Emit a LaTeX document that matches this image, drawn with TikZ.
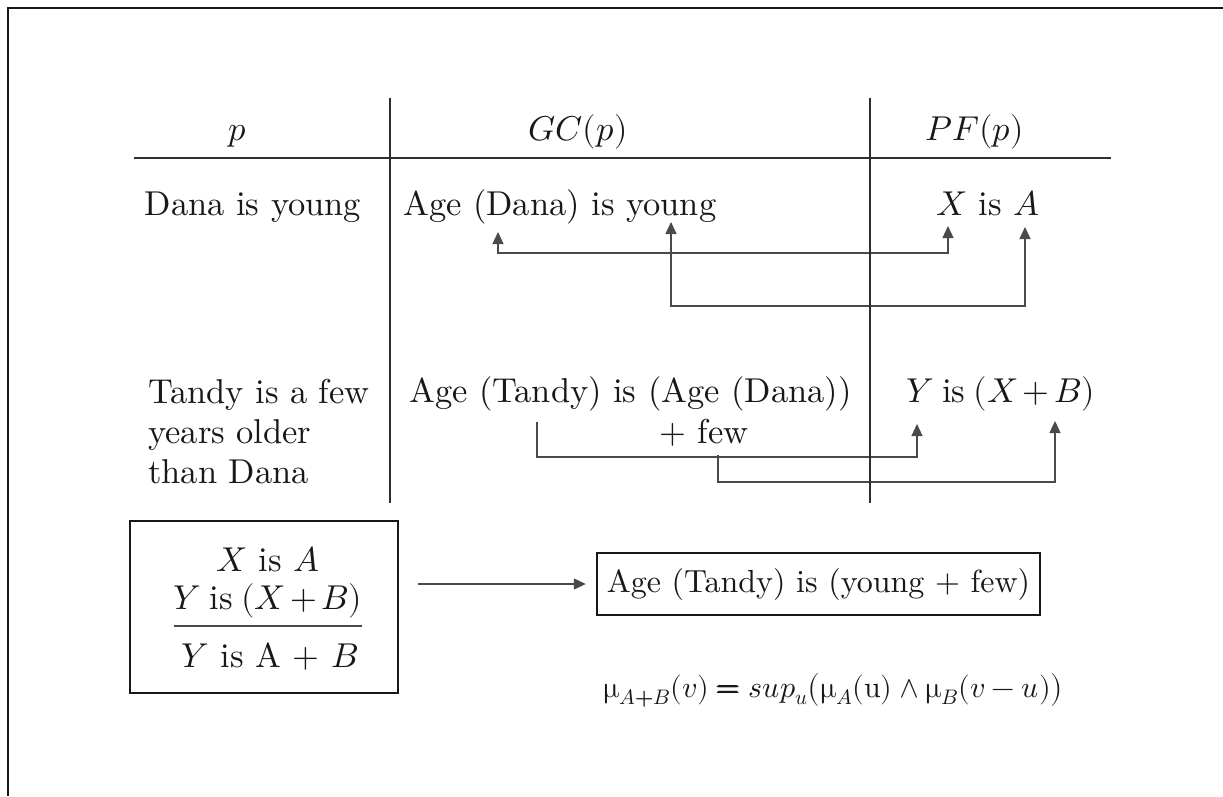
\documentclass[tikz,border=0pt]{standalone}
\usepackage{amsmath}
\usepackage{unicode-math}
\setmainfont{lmroman10-regular.otf}[ItalicFont=lmroman10-italic.otf, BoldFont=lmroman10-bold.otf, BoldItalicFont=lmroman10-bolditalic.otf]
\setmathfont{Latin Modern Math}
\usetikzlibrary{arrows.meta}
\definecolor{ink}{HTML}{1A1718}
\definecolor{wire}{HTML}{4A4A4A}
\newcommand{\YXB}{{\medmuskip=2.5mu $Y$\hspace{0.25em}is\hspace{0.25em}$(X+B)$}}
\tikzset{
  txt/.style={font=\fontsize{34.5}{40}\selectfont, text=ink, inner sep=0pt},
  frameline/.style={line width=2pt, ink},
  tableline/.style={line width=2.6pt, ink!90},
  thinline/.style={line width=1.3pt, wire},
  linkline/.style={line width=1.2pt, wire},
  tipA/.style={-{Triangle[length=12pt,width=11pt]}},
  tipB/.style={{Triangle[length=12pt,width=11pt]}-{Triangle[length=12pt,width=11pt]}},
  boxed/.style={draw=ink, line width=2.4pt, inner sep=0pt}
}
\begin{document}
\begin{tikzpicture}[x=1pt,y=-1pt]
\useasboundingbox (0,0) rectangle (1223,796);
% frame (top and left visible)
\draw[frameline] (1223,7.5) -- (7.5,7.5) -- (7.5,796);

% table grid
\draw[tableline] (134,158) -- (1111,158);

% headers
\node[txt, anchor=base] (hp) at (237,140) {$p$};
\node[txt, anchor=base] (hgc) at (578,140) {$GC(p)$};
\node[txt, anchor=base] (hpf) at (975,140) {$PF(p)$};

% row 1
\node[txt, anchor=base] (p1) at (253,215) {Dana is young};
\node[txt, anchor=base west] (gc1) at (403,215) {Age (Dana) is young};
\node[txt, anchor=base] (pf1) at (988,215) {$X$ is $A$};

% row 2
\node[txt, anchor=base west, align=left] (p2) at (148,483) {Tandy is a few\\years older\\than Dana};
\node[txt, anchor=base west] (gc2) at (409,402) {Age (Tandy) is (Age (Dana))};
\node[txt, anchor=base] (gc2b) at (704,443) {+ few};
\node[txt, anchor=base west] (pf2) at (906,402) {\YXB};

% link coordinates row 1
\coordinate (tDana) at (498,232);
\coordinate (tX) at (948,226);
\coordinate (tYoung) at (671,222);
\coordinate (tA) at (1025,227);
\coordinate (h1) at (0,253);
\coordinate (h2) at (0,306);
\draw[linkline, tipB] (tDana) -- (tDana |- h1) -- (tX |- h1) -- (tX);
\draw[linkline, tipB] (tYoung) -- (tYoung |- h2) -- (tA |- h2) -- (tA);

% link coordinates row 2
\coordinate (sAge) at (537,422);
\coordinate (tY) at (917,424);
\coordinate (sFew) at (718,455);
\coordinate (tB) at (1055,421);
\coordinate (h3) at (0,457);
\coordinate (h4) at (0,482);
\draw[linkline, tipA] (sAge) -- (sAge |- h3) -- (tY |- h3) -- (tY);
\draw[linkline, tipA] (sFew) -- (sFew |- h4) -- (tB |- h4) -- (tB);

% vertical table lines (on top)
\draw[tableline] (390,98) -- (390,503);
\draw[tableline] (870,98) -- (870,503);

% inference box
\node[boxed, minimum width=268pt, minimum height=172pt] (rule) at (264,607) {};
\node[txt, anchor=base] (r1) at (268,571) {$X$ is $A$};
\node[txt, anchor=base] (r2) at (268,609) {\YXB};
\coordinate (rl) at (0,626);
\draw[thinline] (r2.west |- rl) -- (r2.east |- rl);
\node[txt, anchor=base] (r3) at (270,667) {$Y$ is A + $B$};

% conclusion
\node[boxed, minimum width=443pt, minimum height=62pt, txt, font=\fontsize{32}{38}\selectfont] (concl) at (818.5,584) {Age (Tandy) is (young + few)};
\draw[linkline, tipA, shorten <=19pt, shorten >=10pt] (rule.east |- concl.west) -- (concl.west);

% formula
\node[txt, anchor=base west, font=\fontsize{30}{36}\selectfont] (mu) at (603,697) {$\upmu_{A\text{\bfseries+}B}(v) \mathrel{\pmb{=}} sup_u\bigl(\upmu_A(\mathrm{u}) \wedge \upmu_B(v - u)\bigr)$};
\end{tikzpicture}
\end{document}
